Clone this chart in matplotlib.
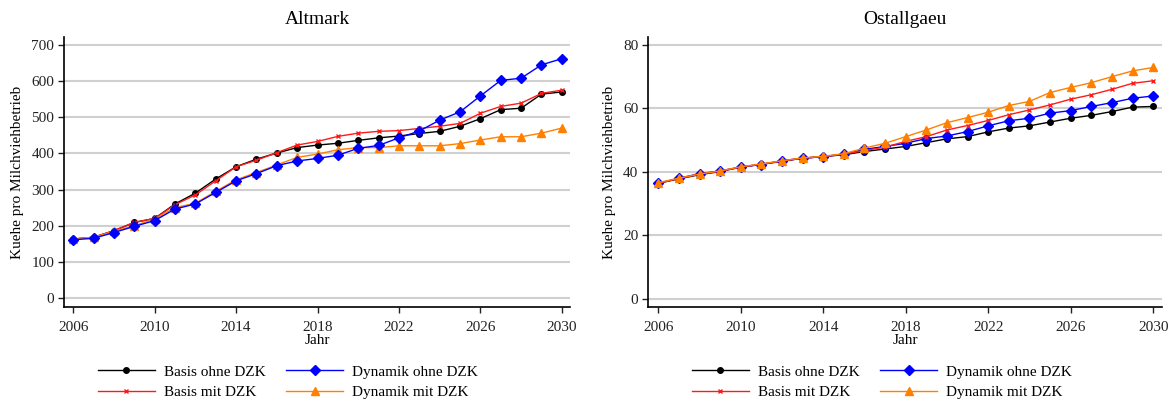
import matplotlib
matplotlib.use("Agg")
import matplotlib.pyplot as plt

plt.rcParams['font.family'] = ['Liberation Serif', 'DejaVu Serif']

years = list(range(2006, 2031))

# Altmark
alt_basis_ohne = [163, 168, 186, 209, 220, 260, 290, 329, 363, 384, 401, 416, 423, 428, 436,
                  443, 448, 455, 461, 475, 496, 521, 525, 564, 570]
alt_basis_mit = [163, 168, 186, 209, 220, 258, 285, 324, 363, 381, 402, 423, 433, 447, 456,
                 461, 463, 469, 475, 483, 511, 530, 539, 566, 575]
alt_dyn_ohne = [161, 165, 181, 198, 214, 246, 260, 292, 324, 344, 366, 379, 386, 395, 414,
                422, 443, 462, 492, 515, 559, 602, 608, 645, 662]
alt_dyn_mit = [163, 168, 184, 200, 218, 250, 262, 295, 327, 347, 368, 389, 398, 410, 416,
               416, 421, 421, 421, 427, 437, 446, 446, 456, 470]

# Ostallgaeu
ost_basis_ohne = [36.4, 37.8, 39.1, 40.1, 41.5, 42.4, 43.3, 44.3, 44.8, 45.4, 46.4, 47.2, 48.0,
                  49.2, 50.4, 51.1, 52.6, 53.8, 54.5, 55.7, 56.9, 57.8, 59.0, 60.4, 60.6]
ost_basis_mit = [36.4, 37.9, 39.3, 40.2, 41.5, 42.4, 43.4, 44.3, 44.8, 45.6, 46.7, 47.8, 49.6,
                 51.1, 53.2, 54.6, 56.2, 58.0, 59.5, 61.1, 62.9, 64.3, 66.0, 67.9, 68.7]
ost_dyn_ohne = [36.4, 38.0, 39.4, 40.3, 41.5, 42.3, 43.5, 44.3, 44.8, 45.6, 47.1, 48.0, 49.0,
                50.5, 51.3, 52.7, 54.5, 56.1, 56.9, 58.5, 59.3, 60.6, 61.8, 63.2, 63.9]
ost_dyn_mit = [36.6, 38.0, 39.3, 40.3, 41.6, 42.5, 43.5, 44.4, 44.9, 45.7, 47.5, 49.0, 51.1,
               53.2, 55.5, 57.1, 58.8, 60.9, 62.2, 65.0, 66.6, 68.1, 70.0, 71.8, 72.9]

labels = ["Basis ohne DZK", "Basis mit DZK", "Dynamik ohne DZK", "Dynamik mit DZK"]
titles = ["Altmark", "Ostallgaeu"]
xticks = [2006, 2010, 2014, 2018, 2022, 2026, 2030]
yticks_alt = [0, 100, 200, 300, 400, 500, 600, 700]
yticks_ost = [0, 20, 40, 60, 80]

styles = [
    dict(color='black', marker='o', markersize=4),
    dict(color='#ff1a1a', marker='x', markersize=3.5, markeredgewidth=1.0),
    dict(color='#0000ff', marker='D', markersize=5.2),
    dict(color='#ff8000', marker='^', markersize=5.8),
]

W, H = 1175, 404
fig = plt.figure(figsize=(W / 100, H / 100), dpi=100)
ax1 = fig.add_axes([64 / W, 1 - 307 / H, 506 / W, 270 / H])
ax2 = fig.add_axes([648 / W, 1 - 307 / H, 514 / W, 270 / H])

fs = 11
data_sets = [
    (ax1, [alt_basis_ohne, alt_basis_mit, alt_dyn_ohne, alt_dyn_mit], yticks_alt, (-25, 722),
     (2005.55, 2030.4), 98),
    (ax2, [ost_basis_ohne, ost_basis_mit, ost_dyn_ohne, ost_dyn_mit], yticks_ost, (-2.6, 82.5),
     (2005.5, 2030.43), 692),
]
for i, (ax, series, yt, yl, xl, lx) in enumerate(data_sets):
    lines = {}
    draw_order = [0, 1, 3, 2] if i == 0 else [0, 2, 1, 3]
    for k in draw_order:
        ln, = ax.plot(years, series[k], lw=1.0, label=labels[k], zorder=3, **styles[k])
        lines[k] = ln
    ax.set_xlim(*xl)
    ax.set_ylim(*yl)
    ax.set_xticks(xticks)
    ax.set_yticks(yt)
    ax.grid(axis='y', color='#d0d0d0', lw=1.5, zorder=0)
    ax.set_axisbelow(True)
    for s in ['top', 'right']:
        ax.spines[s].set_visible(False)
    for s in ['left', 'bottom']:
        ax.spines[s].set_linewidth(1.2)
    ax.tick_params(axis='both', labelsize=fs, length=4, width=1, pad=3, colors='#222222')
    ax.tick_params(axis='x', pad=6)
    ax.set_title(titles[i], fontsize=14, pad=9.5)
    ax.set_xlabel("Jahr", fontsize=fs, labelpad=0)
    ax.set_ylabel("Kuehe pro Milchviehbetrieb", fontsize=fs, labelpad=5)
    handles = [lines[0], lines[1], lines[2], lines[3]]
    fig.legend(handles, labels, loc='upper left', bbox_to_anchor=(lx / W, 1 - 365 / H),
               ncol=2, frameon=False, fontsize=fs, handlelength=3.7, handletextpad=0.6,
               columnspacing=1.37, labelspacing=0.45, borderpad=0, borderaxespad=0)

fig.savefig("out.png", dpi=100)
